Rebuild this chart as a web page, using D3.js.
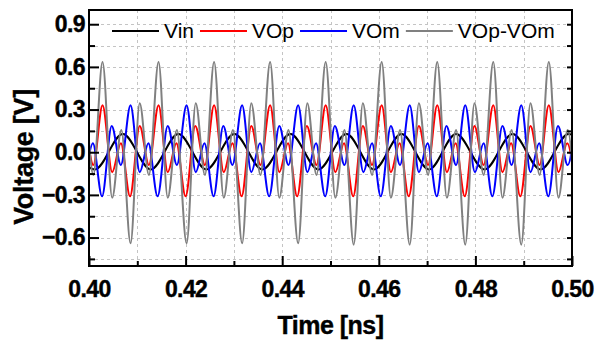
<!DOCTYPE html>
<html>
<head>
<meta charset="utf-8">
<script src="https://cdn.jsdelivr.net/npm/d3@7"></script>
<style>
  body { margin: 0; background: #fff; }
  svg { display: block; font-family: "Liberation Sans", Arial, sans-serif; }
</style>
</head>
<body>
<svg id="chart" width="596" height="341"></svg>
<script>

// DATA (extrema of each waveform, [time ns, volts])

const xMajor = [0.40, 0.42, 0.44, 0.46, 0.48, 0.50],
			xMinor = [0.41, 0.43, 0.45, 0.47, 0.49],
			yMajor = [-0.6, -0.3, 0.0, 0.3, 0.6, 0.9],
			yMinor = [-0.75, -0.45, -0.15, 0.15, 0.45, 0.75];

const seriesNames = ['Vin', 'VOp', 'VOm', 'VOp-VOm'],
			seriesColors = ['#000000', '#ff0000', '#0000ff', '#808080'];

const vin = [
	[0.3955, 0.128], [0.4012, -0.122], [0.4070, 0.128], [0.4128, -0.122],
	[0.4185, 0.128], [0.4243, -0.122], [0.4301, 0.128], [0.4359, -0.122],
	[0.4417, 0.128], [0.4475, -0.122], [0.4533, 0.128], [0.4590, -0.122],
	[0.4647, 0.128], [0.4704, -0.122], [0.4760, 0.128], [0.4819, -0.122],
	[0.4877, 0.128], [0.4935, -0.122], [0.4993, 0.128], [0.5051, -0.122]
];

const vop = [
	[0.3913, 0.33], [0.3932, -0.14], [0.3950, 0.063], [0.3969, -0.31], [0.3989, 0.185], [0.4009, -0.09],
	[0.4028, 0.33], [0.4048, -0.14], [0.4066, 0.063], [0.4085, -0.31], [0.4105, 0.185], [0.4124, -0.09],
	[0.4144, 0.33], [0.4163, -0.14], [0.4181, 0.063], [0.4200, -0.31], [0.4220, 0.185], [0.4240, -0.09],
	[0.4259, 0.33], [0.4279, -0.14], [0.4297, 0.063], [0.4316, -0.31], [0.4336, 0.185], [0.4355, -0.09],
	[0.4375, 0.33], [0.4394, -0.14], [0.4412, 0.063], [0.4431, -0.31], [0.4451, 0.185], [0.4471, -0.09],
	[0.4490, 0.33], [0.4510, -0.14], [0.4528, 0.063], [0.4547, -0.31], [0.4567, 0.185], [0.4586, -0.09],
	[0.4606, 0.33], [0.4625, -0.14], [0.4643, 0.063], [0.4662, -0.31], [0.4683, 0.185], [0.4702, -0.09],
	[0.4721, 0.33], [0.4741, -0.14], [0.4759, 0.063], [0.4778, -0.31], [0.4798, 0.185], [0.4817, -0.09],
	[0.4837, 0.33], [0.4856, -0.14], [0.4874, 0.063], [0.4893, -0.31], [0.4914, 0.185], [0.4933, -0.09],
	[0.4952, 0.33], [0.4972, -0.14], [0.4990, 0.063], [0.5009, -0.31]
];

const vom = [
	[0.3911, -0.31], [0.3932, 0.185], [0.3951, -0.09], [0.3971, 0.33], [0.3990, -0.14], [0.4008, 0.063],
	[0.4027, -0.31], [0.4047, 0.185], [0.4066, -0.09], [0.4086, 0.33], [0.4105, -0.14], [0.4123, 0.063],
	[0.4142, -0.31], [0.4163, 0.185], [0.4182, -0.09], [0.4202, 0.33], [0.4221, -0.14], [0.4239, 0.063],
	[0.4258, -0.31], [0.4278, 0.185], [0.4297, -0.09], [0.4317, 0.33], [0.4336, -0.14], [0.4354, 0.063],
	[0.4373, -0.31], [0.4394, 0.185], [0.4413, -0.09], [0.4433, 0.33], [0.4452, -0.14], [0.4470, 0.063],
	[0.4489, -0.31], [0.4509, 0.185], [0.4529, -0.09], [0.4548, 0.33], [0.4568, -0.14], [0.4586, 0.063],
	[0.4604, -0.31], [0.4625, 0.185], [0.4644, -0.09], [0.4664, 0.33], [0.4683, -0.14], [0.4701, 0.063],
	[0.4720, -0.31], [0.4740, 0.185], [0.4760, -0.09], [0.4779, 0.33], [0.4799, -0.14], [0.4817, 0.063],
	[0.4835, -0.31], [0.4856, 0.185], [0.4875, -0.09], [0.4895, 0.33], [0.4914, -0.14], [0.4932, 0.063],
	[0.4951, -0.31], [0.4971, 0.185], [0.4991, -0.09], [0.5010, 0.33]
];

const vdiff = [
	[0.3913, 0.635], [0.3932, -0.32], [0.3951, 0.157], [0.3971, -0.64], [0.3990, 0.345], [0.4009, -0.16],
	[0.4028, 0.635], [0.4048, -0.32], [0.4067, 0.157], [0.4086, -0.64], [0.4105, 0.345], [0.4124, -0.16],
	[0.4144, 0.635], [0.4163, -0.32], [0.4182, 0.157], [0.4202, -0.64], [0.4221, 0.345], [0.4240, -0.16],
	[0.4259, 0.635], [0.4279, -0.32], [0.4298, 0.157], [0.4317, -0.64], [0.4336, 0.345], [0.4355, -0.16],
	[0.4375, 0.635], [0.4394, -0.32], [0.4413, 0.157], [0.4433, -0.64], [0.4452, 0.345], [0.4471, -0.16],
	[0.4490, 0.635], [0.4510, -0.32], [0.4529, 0.157], [0.4548, -0.65], [0.4567, 0.345], [0.4586, -0.16],
	[0.4606, 0.635], [0.4625, -0.32], [0.4644, 0.157], [0.4664, -0.65], [0.4683, 0.345], [0.4702, -0.16],
	[0.4721, 0.635], [0.4741, -0.32], [0.4760, 0.157], [0.4779, -0.65], [0.4798, 0.345], [0.4817, -0.16],
	[0.4837, 0.635], [0.4856, -0.32], [0.4875, 0.157], [0.4895, -0.65], [0.4914, 0.345], [0.4933, -0.16],
	[0.4952, 0.635], [0.4972, -0.32], [0.4991, 0.157], [0.5010, -0.64]
];

const seriesData = [vin, vop, vom, vdiff];

// LAYOUT

const svg = d3.select('#chart'),
			pLeft = 89, pRight = 572, pTop = 10, pBottom = 266;

const x = d3.scaleLinear().domain([0.40, 0.50]).range([pLeft, pRight]),
			y = d3.scaleLinear().domain([-0.8, 1.0]).range([pBottom, pTop]);

svg.append('rect')
	.attr('width', 596).attr('height', 341)
	.attr('fill', '#fff');

svg.append('clipPath').attr('id', 'plot-clip')
	.append('rect')
	.attr('x', pLeft).attr('y', pTop)
	.attr('width', pRight - pLeft).attr('height', pBottom - pTop);

// grid

const grid = svg.append('g')
	.attr('stroke', '#c4c4c4')
	.attr('stroke-width', 1)
	.attr('stroke-dasharray', '3,3');

grid.selectAll('.vgrid')
	.data(xMajor.concat(xMinor).filter(d => d > 0.40 && d < 0.50))
	.join('line')
	.attr('x1', d => Math.round(x(d)) + 0.5).attr('x2', d => Math.round(x(d)) + 0.5)
	.attr('y1', pTop).attr('y2', pBottom);

grid.selectAll('.hgrid')
	.data(yMajor.concat(yMinor))
	.join('line')
	.attr('y1', d => Math.round(y(d)) + 0.5).attr('y2', d => Math.round(y(d)) + 0.5)
	.attr('x1', pLeft).attr('x2', pRight);

// curves

const line = d3.line()
	.x(d => x(d[0]))
	.y(d => y(d[1]))
	.curve(d3.curveMonotoneX);

svg.append('g')
	.attr('clip-path', 'url(#plot-clip)')
	.selectAll('path')
	.data(seriesData)
	.join('path')
	.attr('d', line)
	.attr('fill', 'none')
	.attr('stroke', (d, i) => seriesColors[i])
	.attr('stroke-width', 2)
	.attr('stroke-linejoin', 'round');

// axes

const styleAxis = g => {
	g.select('.domain').remove();
	g.selectAll('.tick line').attr('stroke', '#000').attr('stroke-width', 2);
	g.selectAll('.tick text')
		.attr('fill', '#000')
		.attr('stroke', '#000')
		.attr('stroke-width', 0.4)
		.style('font-size', '23px')
		.style('font-weight', 'bold')
		.style('letter-spacing', '-0.6px');
};

svg.append('g')
	.attr('transform', `translate(0,${pBottom})`)
	.call(d3.axisBottom(x).tickValues(xMajor).tickSize(-10).tickPadding(15).tickFormat(d3.format('.2f')))
	.call(styleAxis);

svg.append('g')
	.attr('transform', `translate(0,${pBottom})`)
	.call(d3.axisBottom(x).tickValues(xMinor).tickSize(-5).tickFormat(''))
	.call(styleAxis);

svg.append('g')
	.attr('transform', `translate(${pLeft},0)`)
	.call(d3.axisLeft(y).tickValues(yMajor).tickSize(-10).tickPadding(4).tickFormat(d3.format('.1f')))
	.call(styleAxis);

svg.append('g')
	.attr('transform', `translate(${pLeft},0)`)
	.call(d3.axisLeft(y).tickValues(yMinor).tickSize(-6).tickFormat(''))
	.call(styleAxis);

svg.append('g')
	.attr('transform', `translate(${pRight},0)`)
	.call(d3.axisRight(y).tickValues(yMajor.concat(yMinor)).tickSize(-5).tickFormat(''))
	.call(styleAxis);

// frame

svg.append('rect')
	.attr('x', pLeft).attr('y', pTop)
	.attr('width', pRight - pLeft).attr('height', pBottom - pTop)
	.attr('fill', 'none')
	.attr('stroke', '#000')
	.attr('stroke-width', 2);

// titles

svg.append('text')
	.attr('x', (pLeft + pRight) / 2)
	.attr('y', 334)
	.attr('text-anchor', 'middle')
	.attr('stroke', '#000')
	.attr('stroke-width', 0.4)
	.style('font-size', '25px')
	.style('font-weight', 'bold')
	.style('letter-spacing', '-0.5px')
	.text('Time [ns]');

svg.append('text')
	.attr('transform', 'translate(33,157) rotate(-90)')
	.attr('text-anchor', 'middle')
	.attr('stroke', '#000')
	.attr('stroke-width', 0.4)
	.style('font-size', '27px')
	.style('font-weight', 'bold')
	.style('letter-spacing', '-0.3px')
	.text('Voltage [V]');

// legend

const legend = svg.append('g');
let lx = 112;

seriesNames.forEach((name, i) => {

	legend.append('line')
		.attr('x1', lx).attr('x2', lx + 47)
		.attr('y1', 31).attr('y2', 31)
		.attr('stroke', seriesColors[i])
		.attr('stroke-width', 2);

	const t = legend.append('text')
		.attr('x', lx + 52)
		.attr('y', 38)
		.style('font-size', '21px')
		.text(name);

	lx += 52 + t.node().getComputedTextLength() + 6;

});

</script>
</body>
</html>
